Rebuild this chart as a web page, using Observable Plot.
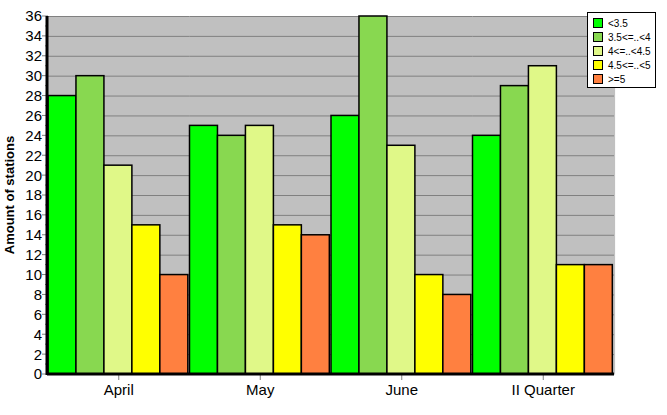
<!DOCTYPE html>
<html>
<head>
<meta charset="utf-8">
<script src="https://cdn.jsdelivr.net/npm/d3@7"></script>
<script src="https://cdn.jsdelivr.net/npm/@observablehq/plot@0.6"></script>
<style>
  html, body { margin: 0; padding: 0; background: #fff; }
  #wrap { position: relative; width: 667px; height: 415px; font-family: "Liberation Sans", Arial, sans-serif; }
  #legend { position: absolute; left: 587px; top: 12px; width: 69px; height: 76px; background: #fff; border: 1px solid #000; box-sizing: border-box; padding: 3px 0 0 5px; font-size: 10px; }
  #legend .item { display: flex; align-items: center; height: 14px; }
  #legend .sw { width: 8px; height: 8px; border: 1px solid #000; margin-right: 5px; }
</style>
</head>
<body>
<div id="wrap"><div id="legend"></div></div>
<script>
const categories = ["April", "May", "June", "II Quarter"];
const seriesNames = ["<3.5", "3.5<=..<4", "4<=..<4.5", "4.5<=..<5", ">=5"];
const seriesColors = ["#00ff00", "#88d850", "#e0f888", "#ffff00", "#ff8040"];
const s1 = [28, 25, 26, 24];
const s2 = [30, 24, 36, 29];
const s3 = [21, 25, 23, 31];
const s4 = [15, 15, 10, 11];
const s5 = [10, 14, 8, 11];
const yTicks = [0, 2, 4, 6, 8, 10, 12, 14, 16, 18, 20, 22, 24, 26, 28, 30, 32, 34, 36];
const yMinor = [1, 3, 5, 7, 9, 11, 13, 15, 17, 19, 21, 23, 25, 27, 29, 31, 33, 35];

const allSeries = [s1, s2, s3, s4, s5];
const data = [];
categories.forEach((c, i) => {
  seriesNames.forEach((s, j) => data.push({category: c, series: s, value: allSeries[j][i]}));
});

const font = "'Liberation Sans', Arial, sans-serif";
const chart = Plot.plot({
  width: 667,
  height: 415,
  marginLeft: 48,
  marginRight: 53,
  marginTop: 16,
  marginBottom: 41,
  style: {fontFamily: font, fontSize: "14px", background: "transparent", overflow: "visible"},
  fx: {domain: categories, paddingInner: 0, paddingOuter: 0, round: false, label: null, axis: null},
  x: {domain: seriesNames, paddingInner: 0, paddingOuter: 0.03, align: 0, round: false, axis: null},
  y: {domain: [0, 36], label: null, axis: null},
  color: {domain: seriesNames, range: seriesColors},
  marks: [
    Plot.frame({fill: "#c0c0c0", stroke: null, insetLeft: -0.6, insetRight: -0.6}),
    Plot.gridY(yTicks, {stroke: "#808080", strokeOpacity: 1, strokeWidth: 1}),
    Plot.barY(data, {fx: "category", x: "series", y: "value", fill: "series", stroke: "#000", strokeWidth: 1.5, inset: 0}),
  ]
});

const svg = d3.select(chart);
const L = 48, R = 667 - 53, T = 16, B = 415 - 41;
const yScale = chart.scale("y");
const fxScale = chart.scale("fx");
const g = svg.append("g");
yTicks.forEach(v => {
  const y = yScale.apply(v);
  g.append("line").attr("x1", L - 6).attr("x2", L).attr("y1", y).attr("y2", y).attr("stroke", "#808080");
  g.append("text").attr("x", L - 6).attr("y", y).attr("dy", "0.36em").attr("text-anchor", "end")
    .attr("font-family", font).attr("font-size", 15).attr("fill", "#000").text(v);
});
yMinor.forEach(v => {
  const y = yScale.apply(v);
  g.append("line").attr("x1", L - 3).attr("x2", L).attr("y1", y).attr("y2", y).attr("stroke", "#808080");
});
categories.forEach(c => {
  const x = fxScale.apply(c) + fxScale.bandwidth / 2;
  g.append("line").attr("x1", x).attr("x2", x).attr("y1", B).attr("y2", B + 6).attr("stroke", "#808080");
  g.append("text").attr("x", x).attr("y", B + 21).attr("text-anchor", "middle")
    .attr("font-family", font).attr("font-size", 15).attr("fill", "#000").text(c);
});
g.append("line").attr("x1", L - 1).attr("x2", L - 1).attr("y1", T).attr("y2", B + 1).attr("stroke", "#000").attr("stroke-width", 3);
g.append("line").attr("x1", L - 1).attr("x2", R).attr("y1", B).attr("y2", B).attr("stroke", "#000").attr("stroke-width", 3);
g.append("text").attr("transform", `translate(14,${(T + B) / 2}) rotate(-90)`).attr("text-anchor", "middle")
  .attr("font-family", font).attr("font-size", 13).attr("font-weight", "bold").attr("fill", "#000").text("Amount of stations");

document.getElementById("wrap").prepend(chart);
chart.style.position = "absolute"; chart.style.left = "0"; chart.style.top = "0";

const legend = d3.select("#legend");
seriesNames.forEach((s, i) => {
  const it = legend.append("div").attr("class", "item");
  it.append("div").attr("class", "sw").style("background", seriesColors[i]);
  it.append("span").text(s);
});
</script>
</body>
</html>
